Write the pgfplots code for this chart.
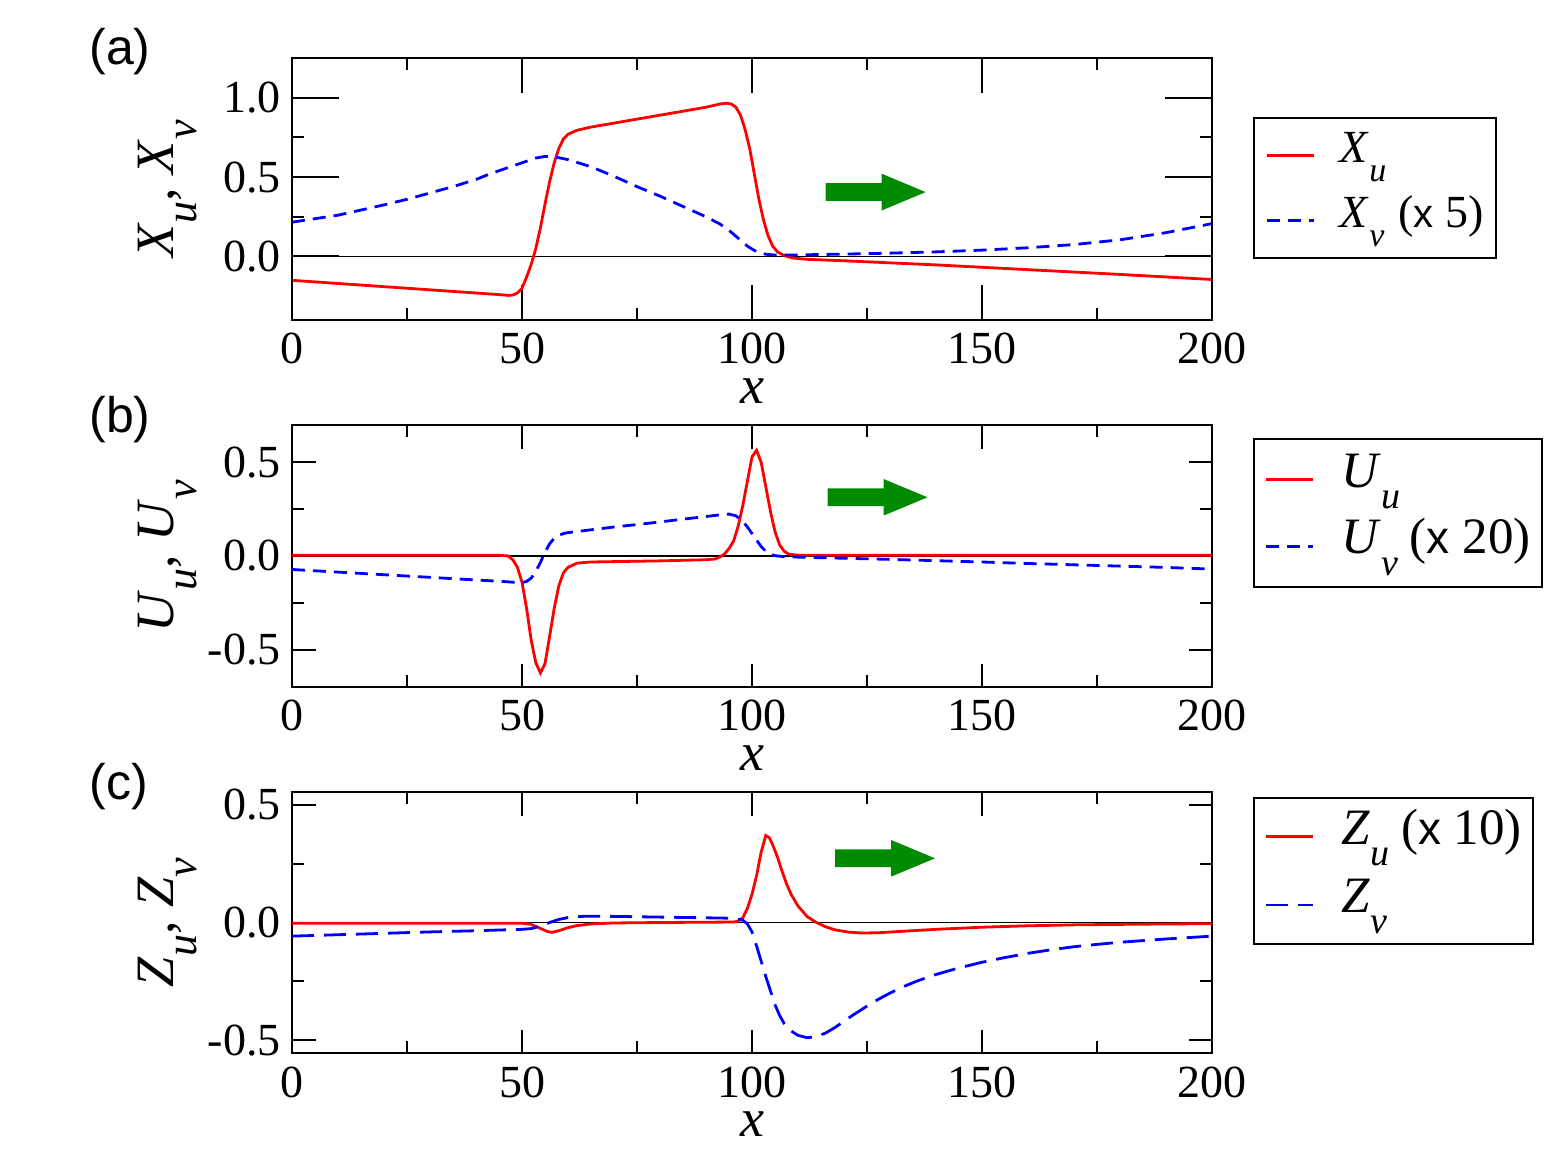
\documentclass[border=0pt]{standalone}
\usepackage{pgfplots}
\pgfplotsset{compat=1.18}
\usepackage{pgfplotstable}
\usepackage{fontspec}
\setmainfont{Liberation Serif}
\newfontfamily\hv{Liberation Sans}
\definecolor{grgreen}{RGB}{0,139,0}

\newcommand{\lsub}[1]{\raisebox{-9.65pt}{\fontsize{17}{17}\selectfont\itshape #1}}
\newcommand{\lsubb}[1]{\raisebox{-10.6pt}{\fontsize{19}{19}\selectfont\itshape #1}}
\newcommand{\ysub}[1]{\raisebox{-11.5pt}{\fontsize{22}{22}\selectfont\itshape #1}}
\newcommand{\xx}{{\hv\fontsize{20}{20}\selectfont x}}
\newcommand{\xxb}{{\hv\fontsize{23}{23}\selectfont x}}

\pgfplotstableread{
x y
0 -0.150
10 -0.170
20 -0.190
30 -0.210
40 -0.230
45 -0.240
47 -0.245
48 -0.243
49 -0.230
50 -0.200
51 -0.130
52 -0.050
53 0.050
54 0.180
55 0.330
56 0.470
57 0.590
58 0.680
59 0.740
60 0.770
62 0.795
65 0.815
70 0.840
75 0.865
80 0.890
85 0.915
90 0.940
93 0.960
94.5 0.965
95.5 0.960
96.5 0.940
97.5 0.890
98.5 0.800
99.5 0.680
100.5 0.520
101.5 0.360
102.5 0.230
103.5 0.130
104.5 0.065
105.5 0.030
107 0.005
109 -0.010
112 -0.018
120 -0.027
130 -0.040
140 -0.053
150 -0.068
160 -0.083
170 -0.098
180 -0.113
190 -0.129
200 -0.145
}\Xu

\pgfplotstableread{
x y
0 0.216
10 0.260
20 0.325
25 0.360
30 0.400
35 0.440
40 0.485
43 0.520
47 0.560
50 0.590
53 0.620
55 0.630
57 0.628
60 0.610
65 0.565
70 0.505
75 0.440
80 0.380
85 0.315
90 0.250
93 0.205
95 0.165
97 0.115
99 0.065
101 0.030
103 0.014
105 0.009
110 0.010
120 0.015
130 0.021
140 0.029
150 0.040
160 0.055
170 0.075
180 0.105
190 0.150
200 0.207
}\Xv

\pgfplotstableread{
x y
0 0.004
45 0.004
47 0.000
48 -0.020
49 -0.060
50 -0.140
51 -0.280
52 -0.450
53 -0.570
54 -0.625
55 -0.575
56 -0.430
57 -0.280
58 -0.160
59 -0.090
60 -0.060
62 -0.038
65 -0.032
70 -0.030
80 -0.026
90 -0.020
92 -0.016
93 -0.005
94 0.010
95 0.040
96 0.080
97 0.160
98 0.270
99 0.400
100 0.530
101 0.565
102 0.500
103 0.370
104 0.240
105 0.130
106 0.060
107 0.025
108 0.010
110 0.004
200 0.004
}\Uu

\pgfplotstableread{
x y
0 -0.072
10 -0.086
20 -0.100
30 -0.114
40 -0.128
47 -0.138
49 -0.142
50 -0.142
51 -0.136
52 -0.118
53 -0.082
54 -0.035
55 0.020
56 0.065
57 0.095
58 0.110
59 0.120
60 0.125
65 0.140
70 0.155
75 0.168
80 0.182
85 0.197
90 0.211
93 0.220
95 0.224
96.5 0.215
98 0.185
99 0.155
100 0.120
101 0.085
102 0.050
103 0.025
104 0.010
105 0.002
107 -0.004
110 -0.006
120 -0.012
130 -0.018
140 -0.025
150 -0.032
160 -0.040
170 -0.047
180 -0.054
190 -0.061
200 -0.070
}\Uv

\pgfplotstableread{
x y
0 -0.003
50 -0.003
52 -0.008
54 -0.025
55.5 -0.038
56.5 -0.042
58 -0.035
60 -0.022
62 -0.013
65 -0.006
70 -0.002
80 0.000
96 0.002
97 0.006
98 0.020
99 0.060
100 0.120
101 0.200
102 0.300
103 0.370
103.8 0.360
104.5 0.330
105.5 0.280
106.5 0.220
107.5 0.165
108.5 0.120
110 0.070
112 0.025
114 0.000
116 -0.018
118 -0.031
121 -0.041
124 -0.045
128 -0.043
133 -0.037
140 -0.029
150 -0.020
160 -0.014
170 -0.010
185 -0.007
200 -0.005
}\Zu

\pgfplotstableread{
x y
0 -0.058
10 -0.052
20 -0.046
30 -0.040
40 -0.035
50 -0.029
52 -0.026
54 -0.015
56 0.000
58 0.013
60 0.021
63 0.026
65 0.027
70 0.026
80 0.023
90 0.020
96 0.018
98 0.010
99 -0.006
100 -0.040
101 -0.100
102 -0.165
103 -0.230
104 -0.290
105 -0.350
106 -0.395
107 -0.430
108 -0.455
110 -0.480
112 -0.490
114 -0.485
116 -0.470
118 -0.447
120 -0.420
122 -0.393
124 -0.368
126 -0.343
128 -0.321
130 -0.300
133 -0.272
136 -0.248
140 -0.221
145 -0.193
150 -0.169
155 -0.149
160 -0.131
165 -0.116
170 -0.103
175 -0.093
180 -0.084
185 -0.077
190 -0.070
195 -0.064
200 -0.058
}\Zv

\pgfplotsset{
  panel/.style={
    scale only axis, width=460pt, xmin=0, xmax=200,
    axis line style={line width=1.15pt},
    tick style={black, line width=1pt},
    minor tick length=6pt,
    xtick={0,50,100,150,200}, xticklabels={0,50,100,150,200}, minor x tick num=1,
    xticklabel style={font=\fontsize{23}{23}\selectfont, inner sep=0pt, yshift=-6.5pt},
    yticklabel style={font=\fontsize{23}{23}\selectfont, inner sep=0pt, xshift=-5.5pt},
    xlabel={\textit{x}},
    xlabel style={font=\fontsize{27}{27}\selectfont, at={(axis description cs:0.5,-0.272)}, anchor=center, inner sep=0pt},
    ylabel style={font=\fontsize{27}{27}\selectfont, at={(axis description cs:-0.129,0.5)}, anchor=base, inner sep=0pt},
    legend style={anchor=north west, draw=black, line width=1pt,
      font=\fontsize{23}{23}\selectfont, inner xsep=6pt, inner ysep=7pt,
      row sep=8pt, column sep=12.2pt,
      nodes={inner sep=0pt, text height=15.5pt, text depth=8.8pt},
      cells={anchor=west}},
    legend image code/.code={\draw[##1] (0pt,0pt) -- (23.3pt,0pt);},
  },
  biglegend/.style={legend style={font=\fontsize{25.5}{25.5}\selectfont,
      column sep=13.5pt, inner xsep=5.5pt,
      nodes={inner sep=0pt, text height=17pt, text depth=9.6pt}}},
  redc/.style={red, line width=1.4pt},
  bluec/.style={blue, line width=1.4pt, dash pattern=on 6.5pt off 4pt},
  bluel/.style={blue, line width=1.4pt, dash pattern=on 11pt off 5pt},
  zeroline/.style={black, line width=0.8pt, forget plot},
}

\newcommand{\garrow}[2]{\fill[grgreen] (#1,#2) ++(0,-8.85) -- ++(56,0) -- ++(0,-9.5) -- ++(44,18.35) -- ++(-44,18.35) -- ++(0,-9.5) -- ++(-56,0) -- cycle;}

\begin{document}
\begin{tikzpicture}
% ---------- panel (a) ----------
\begin{axis}[panel, at={(146pt,-160pt)}, anchor=south west, height=131pt,
  ymin=-0.4, ymax=1.25, ytick=\empty, major tick length=17.5pt,
  ylabel={\textit{X}\ysub{u}, \textit{X}\ysub{v}},
  legend style={at={(1.0446,0.7748)}, inner ysep=6.7pt, row sep=8pt}]
\addplot[zeroline] coordinates {(0,0) (200,0)};
\addplot[redc] table[x=x,y=y] {\Xu};
\addlegendentry{\textit{X}\lsub{u}}
\addplot[bluec] table[x=x,y=y] {\Xv};
\addlegendentry{\textit{X}\lsub{v}\hspace{7pt}(\xx\ 5)}
\end{axis}
\begin{axis}[panel, at={(146pt,-160pt)}, anchor=south west, height=131pt,
  ymin=-0.4, ymax=1.25, xtick=\empty, xlabel={}, minor x tick num=0,
  ytick={0,0.5,1}, yticklabels={0.0,0.5,1.0}, minor y tick num=1,
  major tick length=23.5pt]
\end{axis}
% ---------- panel (b) ----------
\begin{axis}[panel, biglegend, at={(146pt,-343.5pt)}, anchor=south west, height=131pt,
  ymin=-0.7, ymax=0.7, ytick={-0.5,0,0.5}, yticklabels={-0.5,0.0,0.5},
  minor y tick num=1, major tick length=11.75pt,
  ylabel={\textit{U}\ysub{u}, \textit{U}\ysub{v}},
  legend style={at={(1.0446,0.950)}, inner ysep=7pt, row sep=6.75pt}]
\addplot[zeroline] coordinates {(0,0) (200,0)};
\addplot[redc] table[x=x,y=y] {\Uu};
\addlegendentry{\textit{U}\lsubb{u}}
\addplot[bluec] table[x=x,y=y] {\Uv};
\addlegendentry{\textit{U}\lsubb{v}\hspace{6pt}(\xxb\ 20)}
\end{axis}
% ---------- panel (c) ----------
\begin{axis}[panel, biglegend, at={(146pt,-526.5pt)}, anchor=south west, height=130.5pt,
  ymin=-0.555, ymax=0.555, ytick={-0.5,0,0.5}, yticklabels={-0.5,0.0,0.5},
  minor y tick num=1, major tick length=11.75pt,
  ylabel={\textit{Z}\ysub{u}, \textit{Z}\ysub{v}},
  legend style={at={(1.0446,0.981)}, inner ysep=6.1pt, row sep=7.55pt}]
\addplot[zeroline] coordinates {(0,0) (200,0)};
\addplot[redc] table[x=x,y=y] {\Zu};
\addlegendentry{\textit{Z}\lsubb{u}\hspace{6pt}(\xxb\ 10)}
\addplot[bluel] table[x=x,y=y] {\Zv};
\addlegendentry{\textit{Z}\lsubb{v}}
\end{axis}
% ---------- annotations ----------
\begin{scope}[x=0.5pt, y=-0.5pt]
\path[use as bounding box] (0,0) rectangle (1563,1171);
\garrow{825.7}{192.1}
\garrow{827.5}{497.3}
\garrow{835}{858.3}
\node[anchor=base west, inner sep=0pt, font=\hv\fontsize{25}{25}\selectfont] at (89,65) {(a)};
\node[anchor=base west, inner sep=0pt, font=\hv\fontsize{25}{25}\selectfont] at (89,432) {(b)};
\node[anchor=base west, inner sep=0pt, font=\hv\fontsize{25}{25}\selectfont] at (89,799) {(c)};
\end{scope}
\end{tikzpicture}
\end{document}
